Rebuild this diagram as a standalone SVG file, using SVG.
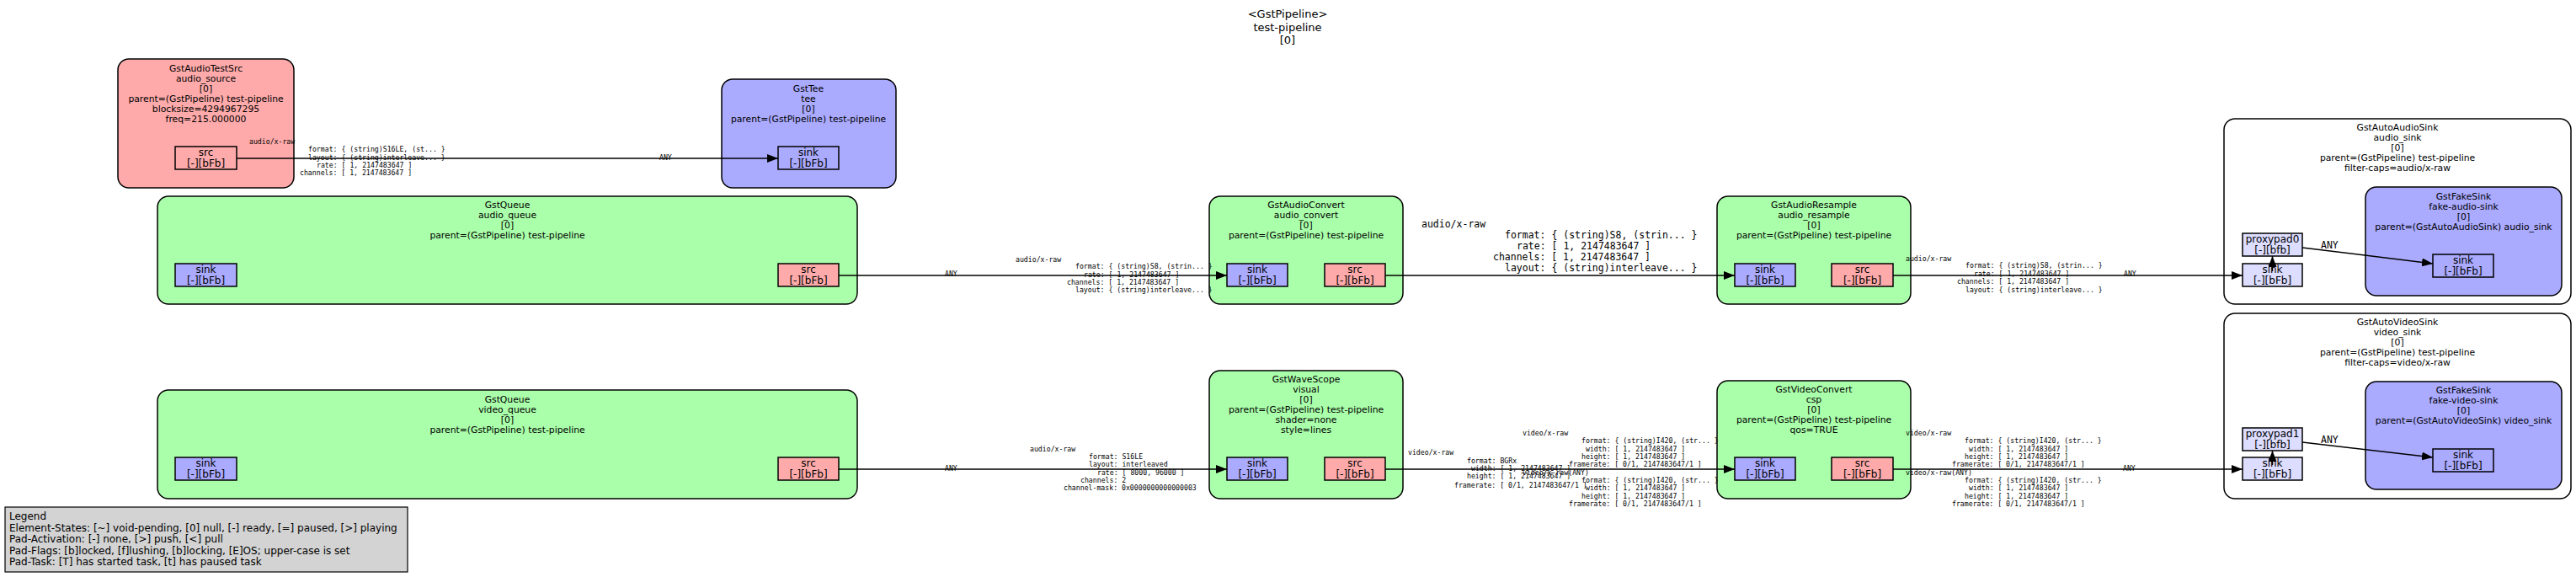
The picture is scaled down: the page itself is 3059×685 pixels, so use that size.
<svg xmlns="http://www.w3.org/2000/svg" width="3059" height="685" viewBox="0 0 3059 685">
<style>
.bg{fill:#ffffff}
.el{stroke:#000;stroke-width:1.5}
.green{fill:#aaffaa}.red{fill:#ffaaaa}.blue{fill:#aaaaff}.ghost{fill:#ddddff}.bin{fill:#ffffff}
.pad{stroke:#000;stroke-width:1.5}
.t{font-family:"DejaVu Sans",sans-serif;font-size:10.8px;text-anchor:middle;fill:#000}
.pt{font-family:"DejaVu Sans",sans-serif;font-size:12px;text-anchor:middle;fill:#000}
.ti{font-family:"DejaVu Sans",sans-serif;font-size:13px;text-anchor:middle;fill:#000}
.lg{font-family:"DejaVu Sans",sans-serif;font-size:12px;fill:#000}
.m{font-family:"DejaVu Sans Mono",monospace;font-size:8.2px;fill:#000}
.mb{font-family:"DejaVu Sans Mono",monospace;font-size:11.5px;fill:#000}
.e{stroke:#000;stroke-width:1.5;fill:none;marker-end:url(#ah)}
</style>
<defs>
<marker id="ah" markerUnits="userSpaceOnUse" markerWidth="14" markerHeight="10" refX="13" refY="5" orient="auto">
<path d="M0,0 L13,5 L0,10 z" fill="#000"/>
</marker>
</defs>
<rect class="bg" x="0" y="0" width="3059" height="685"/>

<g id="title">
<text class="ti" x="1529" y="21">&lt;GstPipeline&gt;</text>
<text class="ti" x="1529" y="36.5">test-pipeline</text>
<text class="ti" x="1529" y="52">[0]</text>
</g>

<g id="audio_source">
<rect class="el red" x="140" y="70" width="209" height="153" rx="13"/>
<text class="t" x="244.5" y="85">GstAudioTestSrc</text>
<text class="t" x="244.5" y="97">audio_source</text>
<text class="t" x="244.5" y="109">[0]</text>
<text class="t" x="244.5" y="121">parent=(GstPipeline) test-pipeline</text>
<text class="t" x="244.5" y="133">blocksize=4294967295</text>
<text class="t" x="244.5" y="145">freq=215.000000</text>
<rect class="pad red" x="208" y="174" width="73" height="27"/>
<text class="pt" x="244.5" y="184.5">src</text>
<text class="pt" x="244.5" y="197.5">[-][bFb]</text>
</g>

<g id="tee">
<rect class="el blue" x="857" y="94" width="207" height="129" rx="13"/>
<text class="t" x="960" y="109">GstTee</text>
<text class="t" x="960" y="121">tee</text>
<text class="t" x="960" y="133">[0]</text>
<text class="t" x="960" y="145">parent=(GstPipeline) test-pipeline</text>
<rect class="pad blue" x="924" y="174" width="72" height="27"/>
<text class="pt" x="960" y="184.5">sink</text>
<text class="pt" x="960" y="197.5">[-][bFb]</text>
</g>

<g id="audio_queue">
<rect class="el green" x="187" y="233" width="831" height="128" rx="13"/>
<text class="t" x="602.5" y="247">GstQueue</text>
<text class="t" x="602.5" y="259">audio_queue</text>
<text class="t" x="602.5" y="271">[0]</text>
<text class="t" x="602.5" y="283">parent=(GstPipeline) test-pipeline</text>
<rect class="pad blue" x="208" y="313" width="73" height="27"/>
<text class="pt" x="244.5" y="323.5">sink</text>
<text class="pt" x="244.5" y="336.5">[-][bFb]</text>
<rect class="pad red" x="924" y="313" width="72" height="27"/>
<text class="pt" x="960" y="323.5">src</text>
<text class="pt" x="960" y="336.5">[-][bFb]</text>
</g>

<g id="audio_convert">
<rect class="el green" x="1436" y="233" width="230" height="128" rx="13"/>
<text class="t" x="1551" y="247">GstAudioConvert</text>
<text class="t" x="1551" y="259">audio_convert</text>
<text class="t" x="1551" y="271">[0]</text>
<text class="t" x="1551" y="283">parent=(GstPipeline) test-pipeline</text>
<rect class="pad blue" x="1457" y="313" width="72" height="27"/>
<text class="pt" x="1493" y="323.5">sink</text>
<text class="pt" x="1493" y="336.5">[-][bFb]</text>
<rect class="pad red" x="1573" y="313" width="72" height="27"/>
<text class="pt" x="1609" y="323.5">src</text>
<text class="pt" x="1609" y="336.5">[-][bFb]</text>
</g>

<g id="audio_resample">
<rect class="el green" x="2039" y="233" width="230" height="128" rx="13"/>
<text class="t" x="2154" y="247">GstAudioResample</text>
<text class="t" x="2154" y="259">audio_resample</text>
<text class="t" x="2154" y="271">[0]</text>
<text class="t" x="2154" y="283">parent=(GstPipeline) test-pipeline</text>
<rect class="pad blue" x="2060" y="313" width="72" height="27"/>
<text class="pt" x="2096" y="323.5">sink</text>
<text class="pt" x="2096" y="336.5">[-][bFb]</text>
<rect class="pad red" x="2175" y="313" width="73" height="27"/>
<text class="pt" x="2211.5" y="323.5">src</text>
<text class="pt" x="2211.5" y="336.5">[-][bFb]</text>
</g>

<g id="audio_sink">
<rect class="bin" x="2641" y="141" width="412" height="220" rx="13" stroke="#000" stroke-width="1.5"/>
<text class="t" x="2847" y="155">GstAutoAudioSink</text>
<text class="t" x="2847" y="167">audio_sink</text>
<text class="t" x="2847" y="179">[0]</text>
<text class="t" x="2847" y="191">parent=(GstPipeline) test-pipeline</text>
<text class="t" x="2847" y="203">filter-caps=audio/x-raw</text>
<rect class="pad ghost" x="2663" y="277" width="71" height="27"/>
<text class="pt" x="2698.5" y="287.5">proxypad0</text>
<text class="pt" x="2698.5" y="300.5">[-][bfb]</text>
<rect class="pad ghost" x="2663" y="313" width="71" height="27"/>
<text class="pt" x="2698.5" y="323.5">sink</text>
<text class="pt" x="2698.5" y="336.5">[-][bFb]</text>
</g>

<g id="fake_audio_sink">
<rect class="el blue" x="2809" y="222" width="233" height="129" rx="13"/>
<text class="t" x="2925.5" y="237">GstFakeSink</text>
<text class="t" x="2925.5" y="249">fake-audio-sink</text>
<text class="t" x="2925.5" y="261">[0]</text>
<text class="t" x="2925.5" y="273">parent=(GstAutoAudioSink) audio_sink</text>
<rect class="pad blue" x="2889" y="302" width="72" height="27"/>
<text class="pt" x="2925" y="312.5">sink</text>
<text class="pt" x="2925" y="325.5">[-][bFb]</text>
</g>

<g id="video_queue">
<rect class="el green" x="187" y="463" width="831" height="129" rx="13"/>
<text class="t" x="602.5" y="478">GstQueue</text>
<text class="t" x="602.5" y="490">video_queue</text>
<text class="t" x="602.5" y="502">[0]</text>
<text class="t" x="602.5" y="514">parent=(GstPipeline) test-pipeline</text>
<rect class="pad blue" x="208" y="543" width="73" height="27"/>
<text class="pt" x="244.5" y="553.5">sink</text>
<text class="pt" x="244.5" y="566.5">[-][bFb]</text>
<rect class="pad red" x="924" y="543" width="72" height="27"/>
<text class="pt" x="960" y="553.5">src</text>
<text class="pt" x="960" y="566.5">[-][bFb]</text>
</g>

<g id="visual">
<rect class="el green" x="1436" y="440" width="230" height="152" rx="13"/>
<text class="t" x="1551" y="454">GstWaveScope</text>
<text class="t" x="1551" y="466">visual</text>
<text class="t" x="1551" y="478">[0]</text>
<text class="t" x="1551" y="490">parent=(GstPipeline) test-pipeline</text>
<text class="t" x="1551" y="502">shader=none</text>
<text class="t" x="1551" y="514">style=lines</text>
<rect class="pad blue" x="1457" y="543" width="72" height="27"/>
<text class="pt" x="1493" y="553.5">sink</text>
<text class="pt" x="1493" y="566.5">[-][bFb]</text>
<rect class="pad red" x="1573" y="543" width="72" height="27"/>
<text class="pt" x="1609" y="553.5">src</text>
<text class="pt" x="1609" y="566.5">[-][bFb]</text>
</g>

<g id="csp">
<rect class="el green" x="2039" y="452" width="230" height="140" rx="13"/>
<text class="t" x="2154" y="466">GstVideoConvert</text>
<text class="t" x="2154" y="478">csp</text>
<text class="t" x="2154" y="490">[0]</text>
<text class="t" x="2154" y="502">parent=(GstPipeline) test-pipeline</text>
<text class="t" x="2154" y="514">qos=TRUE</text>
<rect class="pad blue" x="2060" y="543" width="72" height="27"/>
<text class="pt" x="2096" y="553.5">sink</text>
<text class="pt" x="2096" y="566.5">[-][bFb]</text>
<rect class="pad red" x="2175" y="543" width="73" height="27"/>
<text class="pt" x="2211.5" y="553.5">src</text>
<text class="pt" x="2211.5" y="566.5">[-][bFb]</text>
</g>

<g id="video_sink">
<rect class="bin" x="2641" y="372" width="412" height="220" rx="13" stroke="#000" stroke-width="1.5"/>
<text class="t" x="2847" y="386">GstAutoVideoSink</text>
<text class="t" x="2847" y="398">video_sink</text>
<text class="t" x="2847" y="410">[0]</text>
<text class="t" x="2847" y="422">parent=(GstPipeline) test-pipeline</text>
<text class="t" x="2847" y="434">filter-caps=video/x-raw</text>
<rect class="pad ghost" x="2663" y="508" width="71" height="27"/>
<text class="pt" x="2698.5" y="518.5">proxypad1</text>
<text class="pt" x="2698.5" y="531.5">[-][bfb]</text>
<rect class="pad ghost" x="2663" y="543" width="71" height="27"/>
<text class="pt" x="2698.5" y="553.5">sink</text>
<text class="pt" x="2698.5" y="566.5">[-][bFb]</text>
</g>

<g id="fake_video_sink">
<rect class="el blue" x="2809" y="453" width="233" height="128" rx="13"/>
<text class="t" x="2925.5" y="467">GstFakeSink</text>
<text class="t" x="2925.5" y="479">fake-video-sink</text>
<text class="t" x="2925.5" y="491">[0]</text>
<text class="t" x="2925.5" y="503">parent=(GstAutoVideoSink) video_sink</text>
<rect class="pad blue" x="2889" y="533" width="72" height="27"/>
<text class="pt" x="2925" y="543.5">sink</text>
<text class="pt" x="2925" y="556.5">[-][bFb]</text>
</g>

<g id="connectors">
<path class="e" d="M281,188 L924,188"/>
<path class="e" d="M996,327 L1457,327"/>
<path class="e" d="M1645,327 L2060,327"/>
<path class="e" d="M2248,327 L2663,327"/>
<path class="e" d="M996,557 L1457,557"/>
<path class="e" d="M1645,557 L2060,557"/>
<path class="e" d="M2248,557 L2663,557"/>
<path class="e" d="M2698.5,322 L2698.5,304"/>
<path class="e" d="M2734,294 L2889,313"/>
<path class="e" d="M2698.5,552 L2698.5,535"/>
<path class="e" d="M2734,525 L2889,543"/>

<text class="m" x="296" y="170.5">audio/x-raw</text>
<text class="m" x="366" y="179.5">format: { (string)S16LE, (st... }</text>
<text class="m" x="366" y="189.5">layout: { (string)interleave... }</text>
<text class="m" x="376" y="198.5">rate: [ 1, 2147483647 ]</text>
<text class="m" x="356" y="207.5">channels: [ 1, 2147483647 ]</text>
<text class="m" x="783" y="189.5">ANY</text>

<text class="m" x="1122" y="327.5">ANY</text>
<text class="m" x="1206" y="310.5">audio/x-raw</text>
<text class="m" x="1277" y="318.5">format: { (string)S8, (strin... }</text>
<text class="m" x="1287" y="328.5">rate: [ 1, 2147483647 ]</text>
<text class="m" x="1267" y="337.5">channels: [ 1, 2147483647 ]</text>
<text class="m" x="1277" y="346.5">layout: { (string)interleave... }</text>

<text class="mb" x="1688" y="270">audio/x-raw</text>
<text class="mb" x="1787" y="283">format: { (string)S8, (strin... }</text>
<text class="mb" x="1801" y="296">rate: [ 1, 2147483647 ]</text>
<text class="mb" x="1773" y="309">channels: [ 1, 2147483647 ]</text>
<text class="mb" x="1787" y="322">layout: { (string)interleave... }</text>

<text class="m" x="2263" y="309.5">audio/x-raw</text>
<text class="m" x="2334" y="317.5">format: { (string)S8, (strin... }</text>
<text class="m" x="2344" y="327.5">rate: [ 1, 2147483647 ]</text>
<text class="m" x="2324" y="336.5">channels: [ 1, 2147483647 ]</text>
<text class="m" x="2334" y="346.5">layout: { (string)interleave... }</text>
<text class="m" x="2522" y="327.5">ANY</text>

<text class="mb" x="2756" y="295">ANY</text>

<text class="m" x="1122" y="558.5">ANY</text>
<text class="m" x="1223" y="535.5">audio/x-raw</text>
<text class="m" x="1293" y="544.5">format: S16LE</text>
<text class="m" x="1293" y="553.5">layout: interleaved</text>
<text class="m" x="1303" y="563.5">rate: [ 8000, 96000 ]</text>
<text class="m" x="1283" y="572.5">channels: 2</text>
<text class="m" x="1263" y="581.5">channel-mask: 0x0000000000000003</text>

<text class="m" x="1672" y="539.5">video/x-raw</text>
<text class="m" x="1742" y="549.5">format: BGRx</text>
<text class="m" x="1747" y="558.5">width: [ 1, 2147483647 ]</text>
<text class="m" x="1742" y="567.5">height: [ 1, 2147483647 ]</text>
<text class="m" x="1727" y="578.5">framerate: [ 0/1, 2147483647/1 ]</text>

<text class="m" x="1808" y="516.5">video/x-raw</text>
<text class="m" x="1878" y="525.5">format: { (string)I420, (str... }</text>
<text class="m" x="1883" y="535.5">width: [ 1, 2147483647 ]</text>
<text class="m" x="1878" y="544.5">height: [ 1, 2147483647 ]</text>
<text class="m" x="1863" y="553.5">framerate: [ 0/1, 2147483647/1 ]</text>
<text class="m" x="1808" y="563.5">video/x-raw(ANY)</text>
<text class="m" x="1878" y="572.5">format: { (string)I420, (str... }</text>
<text class="m" x="1883" y="581.5">width: [ 1, 2147483647 ]</text>
<text class="m" x="1878" y="591.5">height: [ 1, 2147483647 ]</text>
<text class="m" x="1863" y="600.5">framerate: [ 0/1, 2147483647/1 ]</text>

<text class="m" x="2263" y="516.5">video/x-raw</text>
<text class="m" x="2333" y="525.5">format: { (string)I420, (str... }</text>
<text class="m" x="2338" y="535.5">width: [ 1, 2147483647 ]</text>
<text class="m" x="2333" y="544.5">height: [ 1, 2147483647 ]</text>
<text class="m" x="2318" y="553.5">framerate: [ 0/1, 2147483647/1 ]</text>
<text class="m" x="2263" y="563.5">video/x-raw(ANY)</text>
<text class="m" x="2333" y="572.5">format: { (string)I420, (str... }</text>
<text class="m" x="2338" y="581.5">width: [ 1, 2147483647 ]</text>
<text class="m" x="2333" y="591.5">height: [ 1, 2147483647 ]</text>
<text class="m" x="2318" y="600.5">framerate: [ 0/1, 2147483647/1 ]</text>
<text class="m" x="2521" y="558.5">ANY</text>

<text class="mb" x="2756" y="526">ANY</text>
</g>

<g id="legend">
<rect x="6" y="602" width="478" height="77" fill="#d3d3d3" stroke="#000" stroke-width="1.2"/>
<text class="lg" x="11" y="617">Legend</text>
<text class="lg" x="11" y="631">Element-States: [~] void-pending, [0] null, [-] ready, [=] paused, [&gt;] playing</text>
<text class="lg" x="11" y="644">Pad-Activation: [-] none, [&gt;] push, [&lt;] pull</text>
<text class="lg" x="11" y="658">Pad-Flags: [b]locked, [f]lushing, [b]locking, [E]OS; upper-case is set</text>
<text class="lg" x="11" y="671">Pad-Task: [T] has started task, [t] has paused task</text>
</g>
</svg>
